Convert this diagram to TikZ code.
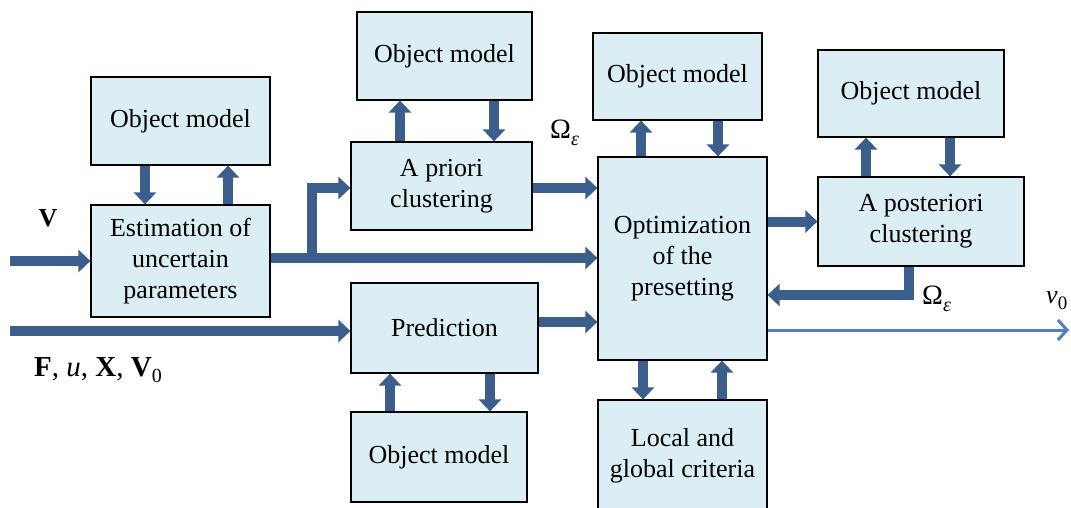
\documentclass[tikz,border=0pt]{standalone}
\usepackage{fontspec}
\setmainfont{Liberation Serif}
\usetikzlibrary{arrows.meta}
\definecolor{arrowblue}{RGB}{59,94,140}
\definecolor{lineblue}{RGB}{79,129,189}
\definecolor{boxfill}{RGB}{219,238,244}
\begin{document}
\begin{tikzpicture}[x=1pt,y=-1pt,
  box/.style={draw=black, line width=1.2pt, fill=boxfill, inner sep=0pt, align=center,
    font=\fontsize{26}{31}\selectfont},
  ar/.style={draw=arrowblue, line width=10pt, -{Triangle[length=12pt,width=22pt]}},
  ln/.style={draw=arrowblue, line width=10pt},
  lbl/.style={inner sep=0pt, font=\fontsize{26}{31}\selectfont}]
\useasboundingbox (0,0) rectangle (1071,508);
% boxes
\node[box, minimum width=179pt, minimum height=88pt] (om1) at (180.5,121) {Object model};
\node[box, minimum width=179pt, minimum height=112pt] (est) at (180.5,261) {Estimation of\\uncertain\\parameters};
\node[box, minimum width=175pt, minimum height=88pt] (om2) at (444.5,56) {Object model};
\node[box, minimum width=181pt, minimum height=88pt] (apri) at (441.5,186) {A priori\\clustering};
\node[box, minimum width=187pt, minimum height=90pt] (pred) at (444.5,328) {Prediction};
\node[box, minimum width=176pt, minimum height=90pt] (om3) at (439,457) {Object model};
\node[box, minimum width=169pt, minimum height=87pt] (om4) at (677.5,76.5) {Object model};
\node[box, minimum width=169pt, minimum height=203pt] (opt) at (682.5,258.5) {Optimization\\of the\\presetting};
\node[box, minimum width=169pt, minimum height=112pt] (loc) at (682.5,456) {Local and\\global criteria};
\node[box, minimum width=186pt, minimum height=87pt] (om5) at (911,93.5) {Object model};
\node[box, minimum width=206pt, minimum height=89pt] (apos) at (921,221.5) {A posteriori\\clustering};
% vertical arrows between boxes
\coordinate (p1) at ([xshift=-35.5pt]om1.south);
\draw[ar] (p1) -- (p1 |- est.north);
\coordinate (p2) at ([xshift=47.5pt]est.north);
\draw[ar] (p2) -- (p2 |- om1.south);
\coordinate (p3) at ([xshift=-41.5pt]apri.north);
\draw[ar] (p3) -- (p3 |- om2.south);
\coordinate (p4) at ([xshift=49.5pt]om2.south);
\draw[ar] (p4) -- (p4 |- apri.north);
\coordinate (p5) at ([xshift=-49pt]om3.north);
\draw[ar] (p5) -- (p5 |- pred.south);
\coordinate (p6) at ([xshift=45.5pt]pred.south);
\draw[ar] (p6) -- (p6 |- om3.north);
\coordinate (p7) at ([xshift=-41.5pt]opt.north);
\draw[ar] (p7) -- (p7 |- om4.south);
\coordinate (p8) at ([xshift=40.5pt]om4.south);
\draw[ar] (p8) -- (p8 |- opt.north);
\coordinate (p9) at ([xshift=-39.5pt]opt.south);
\draw[ar] (p9) -- (p9 |- loc.north);
\coordinate (p10) at ([xshift=39.5pt]loc.north);
\draw[ar] (p10) -- (p10 |- opt.south);
\coordinate (p11) at ([xshift=-55pt]apos.north);
\draw[ar] (p11) -- (p11 |- om5.south);
\coordinate (p12) at ([xshift=39pt]om5.south);
\draw[ar] (p12) -- (p12 |- apos.north);
% inputs
\coordinate (vin) at (10,261);
\draw[ar] (vin) -- (est.west);
\coordinate (fin) at (10,331);
\draw[ar] (fin) -- (fin -| pred.west);
% estimation outputs
\coordinate (e1) at ([yshift=3pt]est.east);
\draw[ar] (e1) -- (e1 -| opt.west);
\coordinate (br) at (312,258);
\coordinate (brt) at (312,188);
\draw[ln] ([yshift=5pt]br) -- (brt);
\draw[ar] ([xshift=-5pt]brt) -- (brt -| apri.west);
% to optimization
\coordinate (a1) at ([yshift=-2pt]apri.east);
\draw[ar] (a1) -- (a1 -| opt.west);
\coordinate (r1) at ([yshift=6pt]pred.east);
\draw[ar] (r1) -- (r1 -| opt.west);
\draw[ar] (apos.west -| opt.east) -- (apos.west);
% feedback
\coordinate (fb) at ([xshift=-12pt]apos.south);
\coordinate (fb2) at (909,295);
\draw[ln] (fb) -- ([yshift=-5pt]fb2);
\draw[ar] ([xshift=5pt]fb2) -- (fb2 -| opt.east);
% output
\coordinate (o1) at (opt.east |- 0,330);
\coordinate (vout) at (1069,330);
\draw[draw=lineblue, line width=3pt, -{Straight Barb[length=9pt,width=20pt]}] (o1) -- (vout);
% labels
\node[lbl, font=\fontsize{26}{31}\selectfont\bfseries] (lv) at (48,218) {V};
\node[lbl, anchor=base west] (lf) at (34,376) {\fontsize{29}{31}\selectfont\textbf{F}, \textit{u}, \textbf{X}, \textbf{V}\raisebox{-6pt}{\fontsize{20}{20}\selectfont 0}};
\node[lbl, anchor=base west] (lo1) at (550,139) {\fontsize{28}{31}\selectfont Ω\raisebox{-7pt}{\fontsize{20}{20}\selectfont\itshape ε}};
\node[lbl, anchor=base west] (lo2) at (922,304) {\fontsize{28}{31}\selectfont Ω\raisebox{-7pt}{\fontsize{20}{20}\selectfont\itshape ε}};
\node[lbl, anchor=base west] (lv0) at (1046,303) {\textit{v}\raisebox{-6pt}{\fontsize{19}{19}\selectfont 0}};
\end{tikzpicture}
\end{document}
